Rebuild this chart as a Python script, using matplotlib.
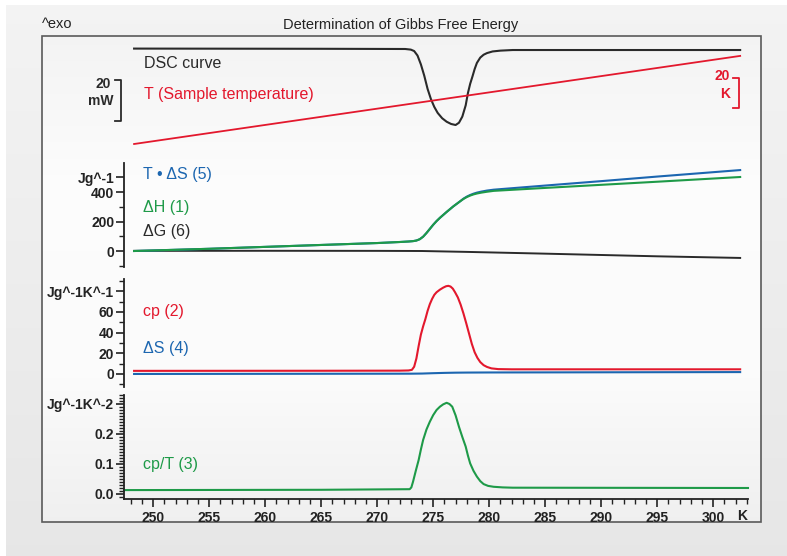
import numpy as np
import matplotlib
matplotlib.use("Agg")
import matplotlib.pyplot as plt
from matplotlib.patches import Rectangle

plt.rcParams['font.family'] = ['Liberation Sans', 'DejaVu Sans']

# ---------------- data ----------------
# Panel 1: DSC curve (mW, relative to baseline) and sample temperature (K)
dsc_T = [248.3, 265.0, 272.5, 273.0, 273.3, 273.6, 273.9, 274.2, 274.5, 274.8,
         275.1, 275.4, 275.8, 276.2, 276.6, 277.0, 277.3, 277.6, 277.9, 278.1,
         278.3, 278.5, 278.7, 278.9, 279.2, 279.5, 279.8, 280.3, 281.0, 282.1, 302.4]
dsc_mW = [0.2, 0.1, 0.0, -0.3, -1.0, -3.2, -7.5, -13.0, -19.5, -24.5,
          -28.3, -31.2, -33.8, -35.5, -36.6, -37.1, -36.0, -33.0, -27.5, -21.5,
          -17.0, -13.5, -9.8, -6.8, -4.2, -2.8, -2.0, -1.2, -0.8, -0.5, -0.5]
ts_x = [248.3, 302.4]
ts_K = [248.3, 307.0]

# Panel 2: ΔH, T·ΔS, ΔG (J/g)
dh_T = [248.3, 255.0, 260.0, 265.0, 270.0, 272.0, 272.8, 273.2, 273.5, 273.8,
        274.1, 274.4, 274.7, 275.0, 275.3, 275.6, 275.9, 276.2, 276.5, 276.8,
        277.1, 277.4, 277.7, 278.0, 278.3, 278.6, 278.9, 279.3, 279.8, 280.4,
        285.0, 290.0, 295.0, 302.4]
dH = [0, 15, 28, 41, 54, 61, 64.5, 67, 71, 80,
      97, 122, 150, 178, 203, 225, 245, 265, 284, 303,
      320, 337, 353, 366, 376, 384, 390, 396, 402, 408,
      428, 449, 470, 502]
tds = [0, 15, 28, 41, 54, 61, 64.5, 67, 71, 80,
       97, 122, 150, 178, 203, 225, 245, 265, 284, 303,
       320, 337, 355, 369, 380, 389, 396, 403, 410, 416,
       444, 474, 505, 549]
dg_T = [248.3, 260.0, 270.0, 274.0, 278.0, 285.0, 290.0, 295.0, 302.4]
dG = [1, 1.5, 1, 0, -6, -18, -27, -36, -47]

# Panel 3: cp and ΔS (J/(g K))
cp_T = [248.3, 265.0, 272.0, 272.8, 273.1, 273.3, 273.5, 273.7, 273.9, 274.1,
        274.3, 274.5, 274.7, 274.9, 275.1, 275.3, 275.6, 275.9, 276.15, 276.35,
        276.55, 276.75, 276.95, 277.2, 277.45, 277.7, 277.95, 278.2, 278.45, 278.7,
        278.95, 279.2, 279.5, 279.8, 280.2, 280.8, 282.0, 302.4]
cp = [3.0, 3.1, 3.2, 3.4, 4.0, 7.0, 15.0, 27.0, 38.0, 46.0,
      53.0, 61.0, 67.5, 72.5, 76.5, 79.0, 81.5, 83.5, 84.8, 85.2,
      84.5, 82.5, 79.0, 74.0, 67.0, 58.5, 49.0, 39.0, 29.0, 21.0,
      15.5, 11.5, 8.5, 6.8, 5.4, 4.7, 4.5, 4.5]
ds_T = [248.3, 273.0, 274.0, 275.0, 276.0, 277.0, 278.0, 280.0, 302.4]
dS = [0.0, 0.27, 0.4, 0.75, 1.05, 1.25, 1.35, 1.45, 1.82]

# Panel 4: cp/T (J/(g K^2))
cpt_T = [247.4, 265.0, 272.9, 273.05, 273.2, 273.45, 273.7, 273.9, 274.1, 274.4,
         274.7, 275.0, 275.3, 275.6, 275.9, 276.2, 276.45, 276.7, 277.0, 277.3,
         277.6, 277.9, 278.1, 278.3, 278.6, 278.9, 279.2, 279.5, 279.9, 280.4,
         281.2, 282.1, 303.1]
cpT = [0.013, 0.014, 0.016, 0.022, 0.041, 0.078, 0.113, 0.148, 0.180, 0.215,
       0.241, 0.263, 0.280, 0.291, 0.299, 0.304, 0.300, 0.291, 0.262, 0.224,
       0.190, 0.158, 0.128, 0.102, 0.077, 0.058, 0.043, 0.033, 0.027, 0.024,
       0.022, 0.021, 0.020]

x_ticks = [250, 255, 260, 265, 270, 275, 280, 285, 290, 295, 300]
x_range = (247.4, 303.1)

RED = '#e3182d'
GREEN = '#1e9a48'
BLUE = '#1c66b0'
BLACK = '#2a2a2a'

# ---------------- figure ----------------
W, H = 787, 556
fig = plt.figure(figsize=(W / 100, H / 100), dpi=100, facecolor='#ebebeb')


def rect(x0, y0, x1, y1):
    return [x0 / W, 1 - y1 / H, (x1 - x0) / W, (y1 - y0) / H]


def fx(x):
    return x / W


def fy(y):
    return 1 - y / H


# background
bg = fig.add_axes([0, 0, 1, 1], zorder=-10)
bg.axis('off')
outer = np.linspace(0.955, 0.905, 200)[:, None] * np.ones((1, 2))
bg.imshow(np.dstack([outer] * 3), extent=(0, W, H, 0), aspect='auto',
          interpolation='bilinear')
inner_v = np.interp(np.linspace(0, 1, 200), [0, 0.3, 0.7, 1.0],
                    [0.955, 0.99, 0.985, 0.94])[:, None] * np.ones((1, 2))
bg.imshow(np.dstack([inner_v] * 3), extent=(42, 761, 522, 36), aspect='auto',
          interpolation='bilinear')
bg.add_patch(Rectangle((0, 0), W, 5, facecolor='white', edgecolor='none'))
bg.add_patch(Rectangle((0, 0), 6, H, facecolor='white', edgecolor='none'))
bg.add_patch(Rectangle((42, 36), 719, 486, facecolor='none',
                       edgecolor='#5a5a5a', lw=1.2))
bg.set_xlim(0, W)
bg.set_ylim(H, 0)

fig.text(fx(401), fy(24.5), 'Determination of Gibbs Free Energy', ha='center',
         va='center', fontsize=10.5, color='#222222')
fig.text(fx(42), fy(24.5), '^exo', ha='left', va='center', fontsize=10.5,
         color='#222222')

TICKFONT = dict(fontsize=10, fontweight='bold', color='#222222')


def style_left(ax, major, labels, minor, ylim):
    ax.set_xlim(*x_range)
    ax.set_ylim(*ylim)
    ax.patch.set_alpha(0)
    for s in ('top', 'right', 'bottom'):
        ax.spines[s].set_visible(False)
    ax.spines['left'].set_linewidth(1.3)
    ax.spines['left'].set_color('#222222')
    ax.set_yticks(major)
    ax.set_yticklabels(labels, **TICKFONT)
    ax.set_yticks(minor, minor=True)
    ax.tick_params(axis='y', which='major', length=6, width=1.2, pad=1,
                   color='#222222')
    ax.tick_params(axis='y', which='minor', length=3.5, width=1.0,
                   color='#222222')
    ax.set_xticks([])


# Panel 1
ax1 = fig.add_axes(rect(124, 40, 748, 150))
ax1.set_xlim(*x_range)
ax1.set_ylim(-49.3, 4.39)
ax1.axis('off')
ax1.plot(dsc_T, dsc_mW, color=BLACK, lw=1.5, solid_joinstyle='round')
ax1t = ax1.twinx()
ax1t.set_ylim(244.3, 317.6)
ax1t.axis('off')
ax1t.plot(ts_x, ts_K, color=RED, lw=1.3)
# scale bars
xb = 120.5
bg.plot([xb - 6, xb, xb, xb - 6], [80, 80, 121, 121], color=BLACK, lw=1.3)
fig.text(fx(111), fy(84), '20', ha='right', va='center', fontsize=10,
         fontweight='bold', color=BLACK)
fig.text(fx(113), fy(101), 'mW', ha='right', va='center', fontsize=10,
         fontweight='bold', color=BLACK)
xr = 739
bg.plot([xr - 6, xr, xr, xr - 6], [78, 78, 108, 108], color=RED, lw=1.3)
fig.text(fx(730), fy(76), '20', ha='right', va='center', fontsize=10,
         fontweight='bold', color=RED)
fig.text(fx(730), fy(94), 'K', ha='right', va='center', fontsize=10,
         fontweight='bold', color=RED)
fig.text(fx(144), fy(63), 'DSC curve', ha='left', va='center', fontsize=11.5,
         color=BLACK)
fig.text(fx(144), fy(95), 'T (Sample temperature)', ha='left', va='center',
         fontsize=11.5, color=RED)

# Panel 2
ax2 = fig.add_axes(rect(124, 163, 748, 267))
style_left(ax2, [0, 200, 400, 500], ['0', '200', '400', 'Jg^-1'],
           [-100, 100, 300], (-108.5, 597))
ax2.plot(dg_T, dG, color=BLACK, lw=1.4)
ax2.plot(dh_T, tds, color=BLUE, lw=1.5)
ax2.plot(dh_T, dH, color=GREEN, lw=1.5)
fig.text(fx(143), fy(175), 'T • ΔS (5)', ha='left', va='center',
         fontsize=11.5, color=BLUE)
fig.text(fx(143), fy(207.5), 'ΔH (1)', ha='left', va='center', fontsize=11.5,
         color=GREEN)
fig.text(fx(143), fy(231.5), 'ΔG (6)', ha='left', va='center', fontsize=11.5,
         color=BLACK)

# Panel 3
ax3 = fig.add_axes(rect(124, 279, 748, 387))
style_left(ax3, [0, 20, 40, 60, 80], ['0', '20', '40', '60', 'Jg^-1K^-1'],
           [-10, 10, 30, 50, 70, 90], (-12.6, 91.8))
ax3.plot(ds_T, dS, color=BLUE, lw=1.5)
ax3.plot(cp_T, cp, color=RED, lw=1.5, solid_joinstyle='round')
fig.text(fx(143), fy(311.5), 'cp (2)', ha='left', va='center', fontsize=11.5,
         color=RED)
fig.text(fx(143), fy(348), 'ΔS (4)', ha='left', va='center', fontsize=11.5,
         color=BLUE)

# Panel 4
ax4 = fig.add_axes(rect(124, 395, 748, 499))
style_left(ax4, [0.0, 0.1, 0.2, 0.3], ['0.0', '0.1', '0.2', 'Jg^-1K^-2'],
           [v / 100 for v in range(-1, 34) if v % 10 != 0], (-0.0167, 0.33))
ax4.spines['bottom'].set_visible(True)
ax4.spines['bottom'].set_linewidth(1.3)
ax4.spines['bottom'].set_color('#222222')
ax4.set_xticks(x_ticks)
ax4.set_xticklabels([str(t) for t in x_ticks], **TICKFONT)
ax4.set_xticks([t for t in range(248, 304) if t % 5 != 0], minor=True)
ax4.tick_params(axis='x', which='major', length=6, width=1.2, pad=3,
                color='#222222')
ax4.tick_params(axis='x', which='minor', length=3.5, width=1.0,
                color='#222222')
ax4.plot(cpt_T, cpT, color=GREEN, lw=1.5, clip_on=False,
         solid_joinstyle='round')
fig.text(fx(143), fy(465), 'cp/T (3)', ha='left', va='center', fontsize=11.5,
         color=GREEN)
fig.text(fx(742), fy(516), 'K', ha='center', va='center', **TICKFONT)

fig.savefig('out.png', dpi=100, facecolor=fig.get_facecolor())
